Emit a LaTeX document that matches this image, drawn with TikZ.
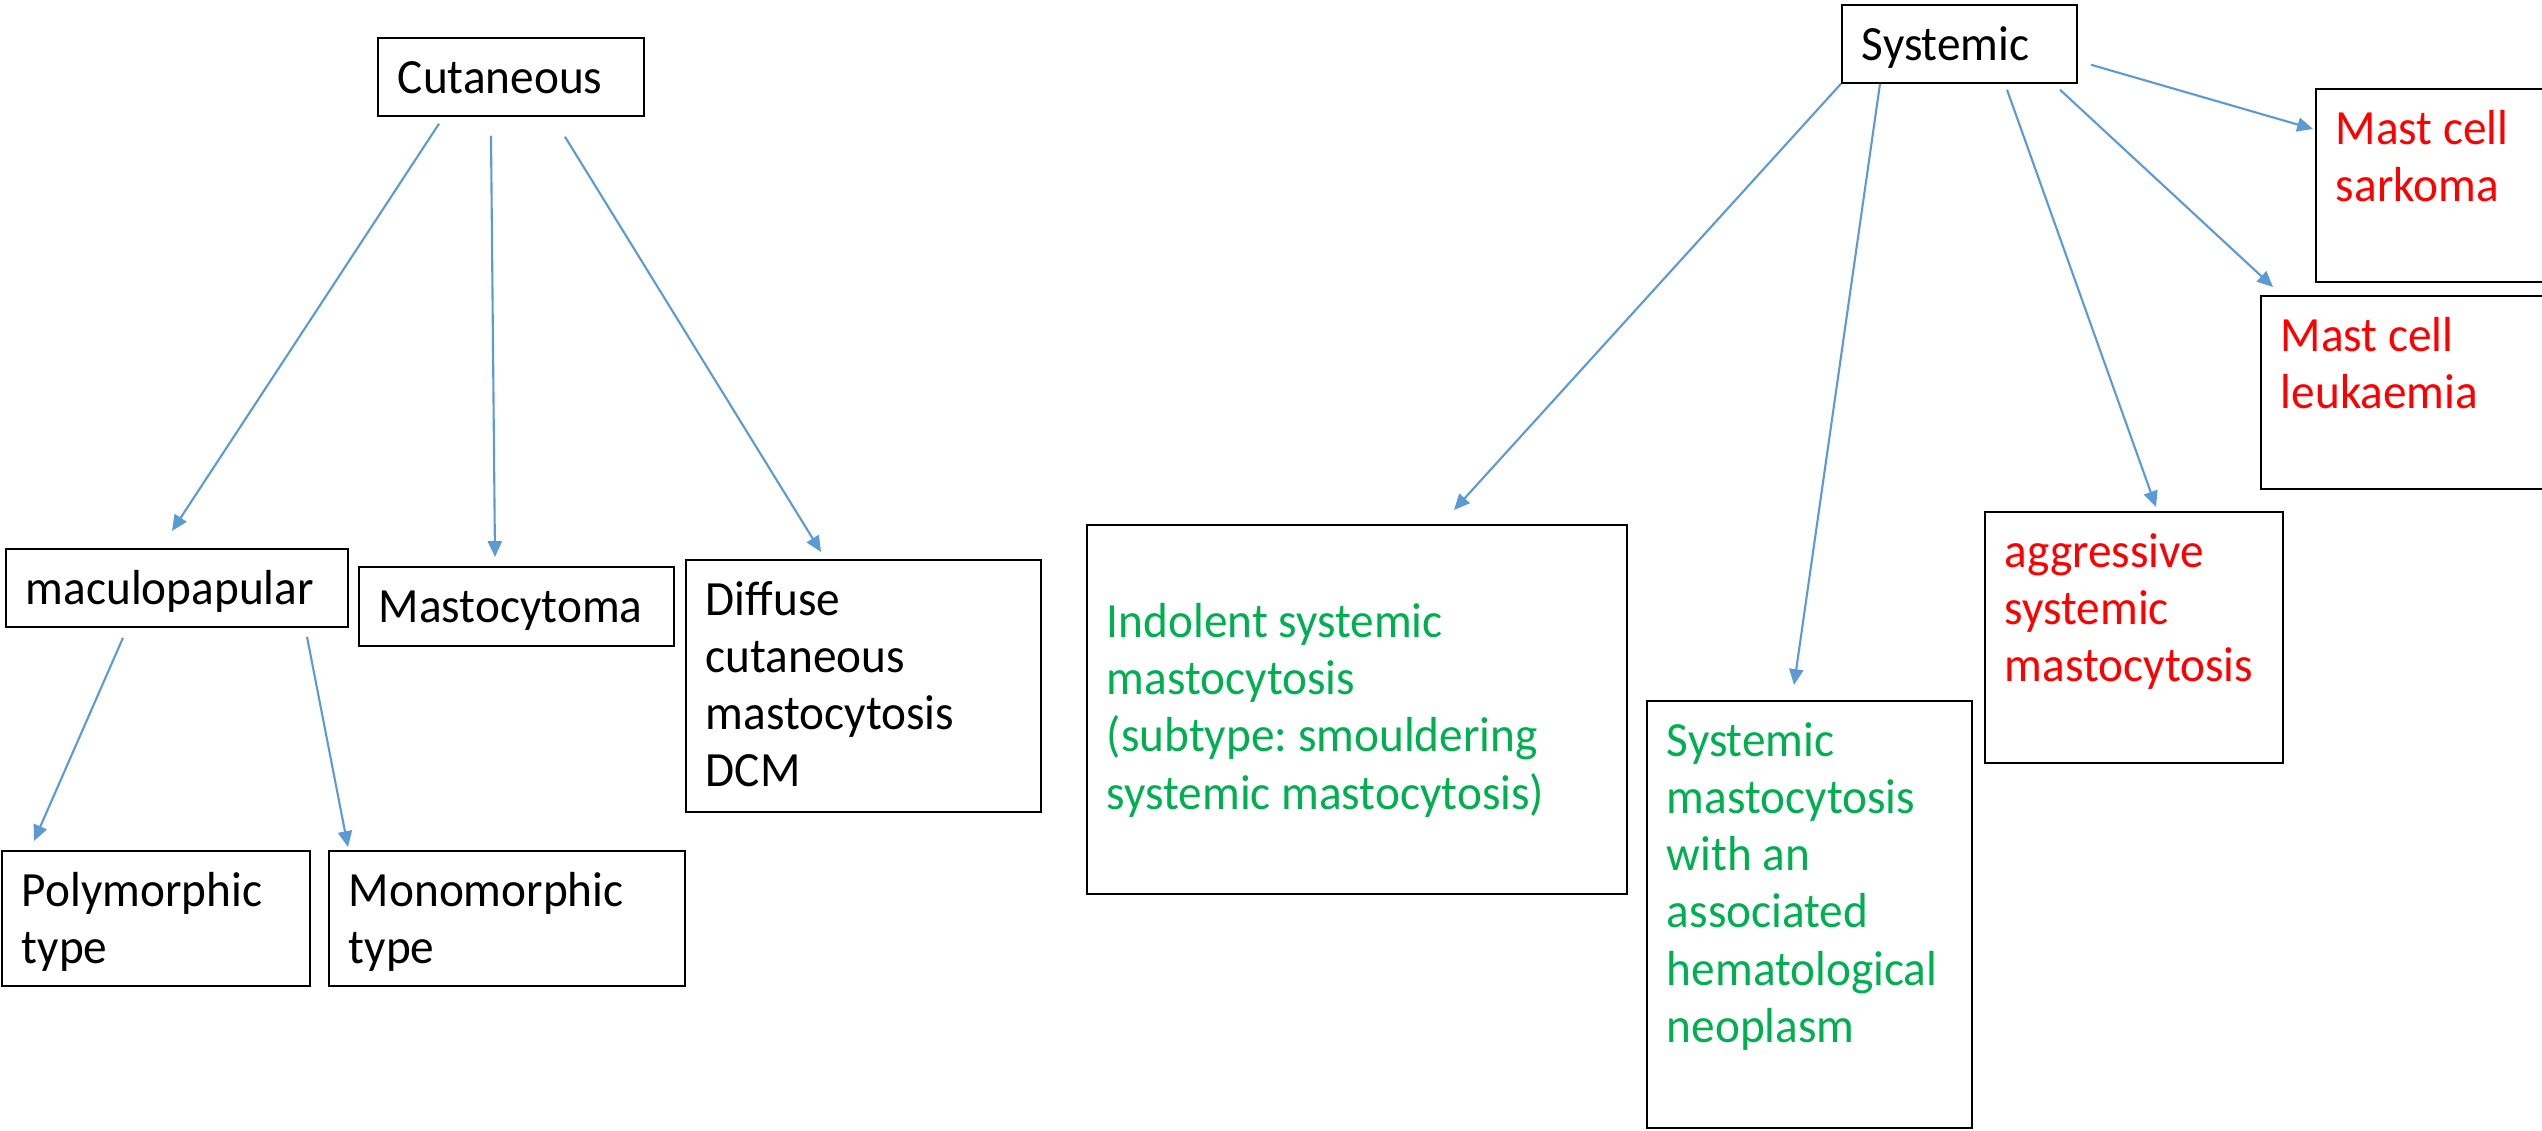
\documentclass[tikz,border=0pt]{standalone}
\usepackage{fontspec}
\setmainfont{Carlito}[FakeStretch=0.96]
\usetikzlibrary{arrows.meta}
\frenchspacing

\definecolor{linkblue}{RGB}{91,155,213}
\definecolor{benign}{RGB}{0,176,80}
\definecolor{severe}{RGB}{255,0,0}

% text block of a box: width and height in px
\newcommand{\cellbox}[3]{\parbox[t][\dimexpr0.01cm*#2-0.3cm\relax][t]{\dimexpr0.01cm*#1-0.4cm\relax}{\raggedright\strut #3}}

\begin{document}
\begin{tikzpicture}[
    x=0.01cm, y=-0.01cm,
    box/.style={draw, line width=0.5pt, anchor=north west, inner xsep=0.2cm, inner ysep=0.15cm, font=\fontsize{14}{16.3}\selectfont},
    mild/.style={box, text=benign},
    grave/.style={box, text=severe},
    arrow/.style={-{Triangle[length=4.5pt,width=4pt]}, linkblue, line width=0.6pt}
]
\useasboundingbox (0,0) rectangle (2542,1131);

% cutaneous forms
\node[box] (cut) at (377,37) {\cellbox{266}{78}{Cutaneous}};
\node[box] (macul) at (5,548) {\cellbox{342}{78}{maculopapular}};
\node[box] (masto) at (358,566) {\cellbox{315}{79}{Mastocytoma}};
\node[box] (dcm) at (685,559) {\cellbox{355}{252}{Diffuse\\cutaneous\\mastocytosis\\DCM}};
\node[box] (poly) at (1,850) {\cellbox{308}{135}{Polymorphic\\type}};
\node[box] (mono) at (328,850) {\cellbox{356}{135}{Monomorphic\\type}};

% systemic forms
\node[box] (sys) at (1841,4) {\cellbox{235}{78}{Systemic}};
\node[mild] (ind) at (1086,524) {\cellbox{540}{369}{\\Indolent systemic\\mastocytosis\\(subtype: smouldering\\systemic mastocytosis)}};
\node[mild] (ahn) at (1646,700) {\cellbox{325}{427}{Systemic\\mastocytosis\\with an\\associated\\hematological\\neoplasm}};
\node[grave] (agg) at (1984,511) {\cellbox{298}{251}{aggressive\\systemic\\mastocytosis}};
\node[grave] (leuk) at (2260,295) {\cellbox{320}{193}{Mast cell\\leukaemia}};
\node[grave] (sark) at (2315,88) {\cellbox{260}{193}{Mast cell\\sarkoma}};

\draw[arrow] ([shift={(62,7)}]cut.south west) -- ([shift={(167,-17)}]macul.north west);
\draw[arrow] ([shift={(114,19)}]cut.south west) -- ([shift={(137,-9)}]masto.north west);
\draw[arrow] ([shift={(188,20)}]cut.south west) -- ([shift={(136,-7)}]dcm.north west);
\draw[arrow] ([shift={(118,10)}]macul.south west) -- ([shift={(33,-9)}]poly.north west);
\draw[arrow] ([shift={(302,9)}]macul.south west) -- ([shift={(20,-3)}]mono.north west);

\draw[arrow] (sys.south west) -- ([shift={(368,-14)}]ind.north west);
\draw[arrow] ([shift={(39,0)}]sys.south west) -- ([shift={(148,-15)}]ahn.north west);
\draw[arrow] ([shift={(166,6)}]sys.south west) -- ([shift={(172,-4)}]agg.north west);
\draw[arrow] ([shift={(219,6)}]sys.south west) -- ([shift={(13,-8)}]leuk.north west);
\draw[arrow] ([shift={(250,-19)}]sys.south west) -- ([shift={(-2,41)}]sark.north west);
\end{tikzpicture}
\end{document}
